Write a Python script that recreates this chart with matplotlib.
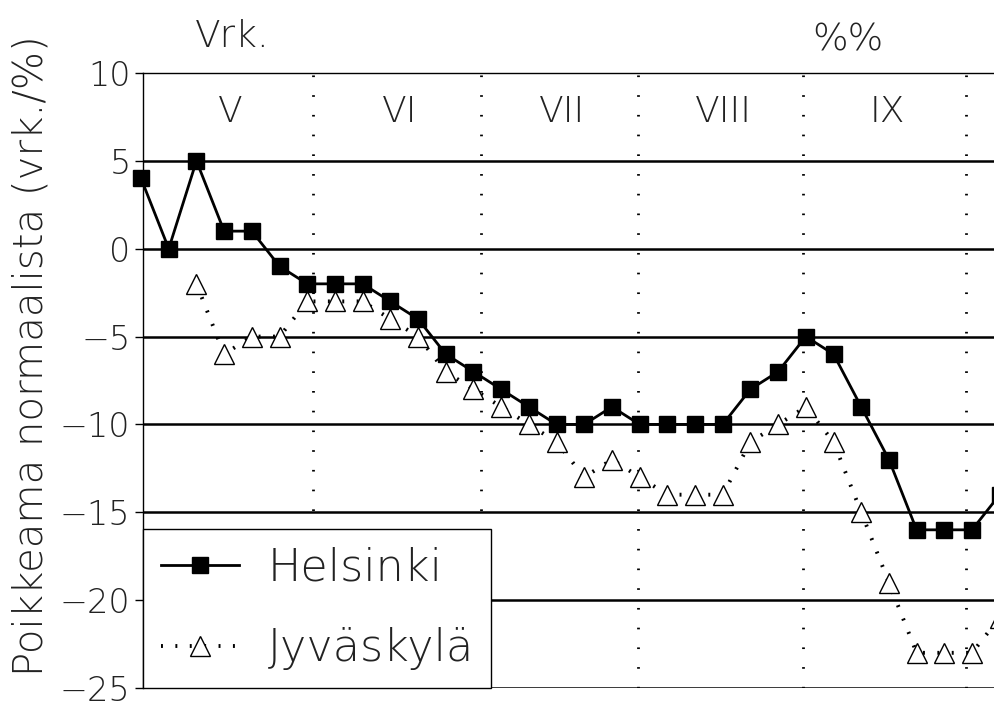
import matplotlib.pyplot as plt
import numpy as np

# pentad index (5-day periods from the start of May)
helsinki = [4, 0, 5, 1, 1, -1, -2, -2, -2, -3, -4, -6, -7, -8, -9, -10,
            -10, -9, -10, -10, -10, -10, -8, -7, -5, -6, -9, -12, -16,
            -16, -16, -14]
jyvaskyla = [None, None, -2, -6, -5, -5, -3, -3, -3, -4, -5, -7, -8, -9,
             -10, -11, -13, -12, -13, -14, -14, -14, -11, -10, -9, -11,
             -15, -19, -23, -23, -23, -21]
months = ["V", "VI", "VII", "VIII", "IX"]
month_edges = [6.2, 12.28, 17.94, 23.9, 29.8]
yticks = [10, 5, 0, -5, -10, -15, -20, -25]


def main():
    plt.rcParams["font.family"] = ["DejaVu Sans"]
    plt.rcParams["font.weight"] = "light"
    plt.rcParams["text.color"] = "#222222"
    fig = plt.figure(figsize=(9.95, 7.02), dpi=100)
    ax = fig.add_axes([0.1437, 0.02, 0.8563, 0.876])

    x = np.arange(len(helsinki))
    jy = np.array([np.nan if v is None else v for v in jyvaskyla], float)

    for y in yticks[1:]:
        ax.axhline(y, color="black", lw=1.8, zorder=1)
    for e in month_edges:
        ax.axvline(e, color="black", lw=2, ls=(0, (0.6, 6.5)), zorder=1)

    ax.plot(x, jy, color="black", lw=2.8, ls=(0, (0.5, 3.2)),
            marker="^", ms=15, mfc="white", mec="black", mew=1.0,
            label="Jyväskylä", zorder=3, clip_on=False)
    ax.plot(x, helsinki, color="black", lw=2, marker="s", ms=12,
            mfc="black", mec="black", label="Helsinki", zorder=4,
            clip_on=False)

    edges = [0.07] + month_edges
    for i, m in enumerate(months):
        ax.text((edges[i] + edges[i + 1]) / 2 + 0.1, 7.8, m, ha="center",
                va="center", fontsize=26)

    ax.set_xlim(0.07, 30.83)
    ax.set_ylim(-25, 10)
    ax.set_yticks(yticks)
    ax.set_yticklabels([str(t).replace("-", "\u2212") for t in yticks],
                       fontsize=24, color="#222222")
    ax.set_xticks([])
    ax.tick_params(axis="y", length=6, width=1, pad=3)
    for s in ["right", "bottom"]:
        ax.spines[s].set_visible(False)
    ax.spines["top"].set_linewidth(1)
    ax.spines["left"].set_linewidth(1)

    ax.set_ylabel("Poikkeama normaalista (vrk./%)", fontsize=29,
                  fontweight="light", color="#222222")
    ax.yaxis.set_label_coords(-0.108, 0.541)
    fig.text(0.233, 0.948, "Vrk.", ha="center", va="center", fontsize=27)
    fig.text(0.852, 0.943, "%%", ha="center", va="center", fontsize=27)

    handles, labels = ax.get_legend_handles_labels()
    leg = ax.legend(handles[::-1], labels[::-1], loc="lower left",
                    bbox_to_anchor=(0.0, 0.0), fontsize=32, frameon=True,
                    fancybox=False, edgecolor="black", handlelength=1.75,
                    borderpad=0.4, labelspacing=0.85, handletextpad=0.65,
                    borderaxespad=0.0)
    leg.get_frame().set_linewidth(1)
    leg.get_frame().set_alpha(1)

    fig.savefig("out.png", dpi=100)


if __name__ == "__main__":
    main()
